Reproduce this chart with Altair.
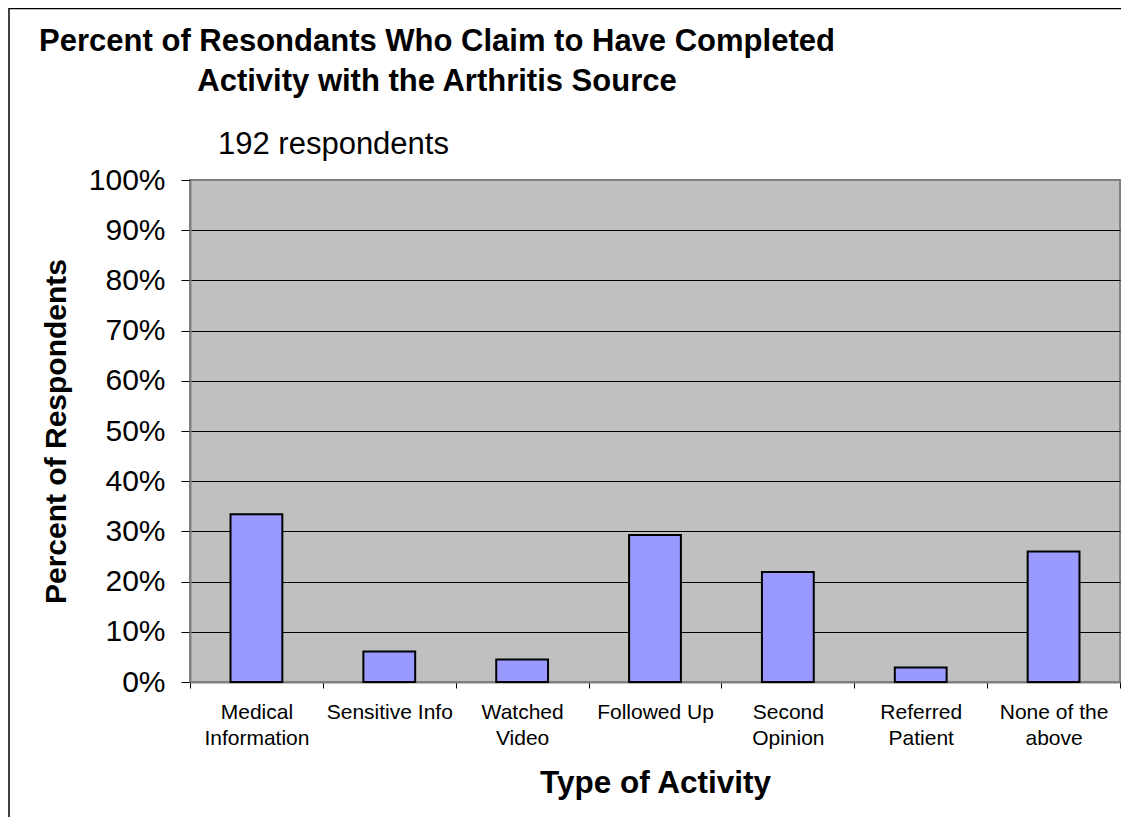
import altair as alt
import pandas as pd

CATEGORIES = [
    "Medical\nInformation",
    "Sensitive Info",
    "Watched\nVideo",
    "Followed Up",
    "Second\nOpinion",
    "Referred\nPatient",
    "None of the\nabove",
]
PERCENTS = [33.4, 6.1, 4.5, 29.3, 21.9, 2.9, 26.0]
Y_TICKS = [0, 10, 20, 30, 40, 50, 60, 70, 80, 90, 100]
TITLE_LINES = [
    "Percent of Resondants Who Claim to Have Completed",
    "Activity with the Arthritis Source",
]
SUBTITLE = "192 respondents"
X_TITLE = "Type of Activity"
Y_TITLE = "Percent of Respondents"

FONT = "Liberation Sans"

df = pd.DataFrame({"activity": CATEGORIES, "pct": PERCENTS})
one = pd.DataFrame({"k": [0]})

frame = alt.Chart(one).mark_rect(
    fillOpacity=0, stroke="black", strokeWidth=1.5
).encode(
    x=alt.value(-181), x2=alt.value(1000),
    y=alt.value(-171.5), y2=alt.value(800),
)

bars = alt.Chart(df).mark_bar(
    fill="#9999FF", stroke="black", strokeWidth=2,
    width=alt.RelativeBandSize(0.39),
).encode(
    x=alt.X(
        "activity:N", sort=CATEGORIES,
        scale=alt.Scale(paddingInner=0, paddingOuter=0),
        axis=alt.Axis(
            title=X_TITLE, labelAngle=0,
            labelExpr="split(datum.label, '\\n')",
            labelFont=FONT, labelFontSize=21, labelLineHeight=26,
            labelPadding=13, labelColor="black",
            tickBand="extent", tickSize=6, tickColor="black", tickWidth=1,
            domainColor="#808080", domainWidth=2, grid=False,
            titleFont=FONT, titleFontSize=31.5, titleFontWeight="bold",
            titleColor="black", titleX=465, titleY=110,
            titleAlign="center", titleBaseline="alphabetic",
        ),
    ),
    y=alt.Y(
        "pct:Q", scale=alt.Scale(domain=[0, 100]),
        axis=alt.Axis(
            values=Y_TICKS, labelExpr="datum.value + '%'",
            title=Y_TITLE, grid=True,
            gridColor=alt.condition("datum.value == 100",
                                    alt.value("#808080"), alt.value("black")),
            gridWidth=1,
            tickSize=9, tickColor="black", tickWidth=1,
            domainColor="#808080", domainWidth=2,
            labelFont=FONT, labelFontSize=30, labelPadding=16,
            labelColor="black",
            titleFont=FONT, titleFontSize=30, titleFontWeight="bold",
            titleColor="black", titleAngle=270, titleX=-125, titleY=251,
            titleAlign="center", titleBaseline="alphabetic",
        ),
    ),
)

title = alt.Chart(one).mark_text(
    font=FONT, fontSize=31, fontWeight="bold", align="center",
    baseline="alphabetic", lineHeight=40, color="black",
).encode(x=alt.value(247), y=alt.value(-129), text=alt.value(TITLE_LINES))

subtitle = alt.Chart(one).mark_text(
    font=FONT, fontSize=31, align="left", baseline="alphabetic", color="black",
).encode(x=alt.value(28), y=alt.value(-26), text=alt.value(SUBTITLE))

chart = alt.layer(frame, bars, title, subtitle).properties(
    width=930, height=502,
    background="white",
    autosize=alt.AutoSizeParams(type="none"),
    padding={"left": 182, "top": 172, "right": 1, "bottom": 135},
).configure_view(
    fill="#C0C0C0", stroke="#808080", strokeWidth=2
)

chart.save("out.html", embed_options={"renderer": "svg", "actions": False})
